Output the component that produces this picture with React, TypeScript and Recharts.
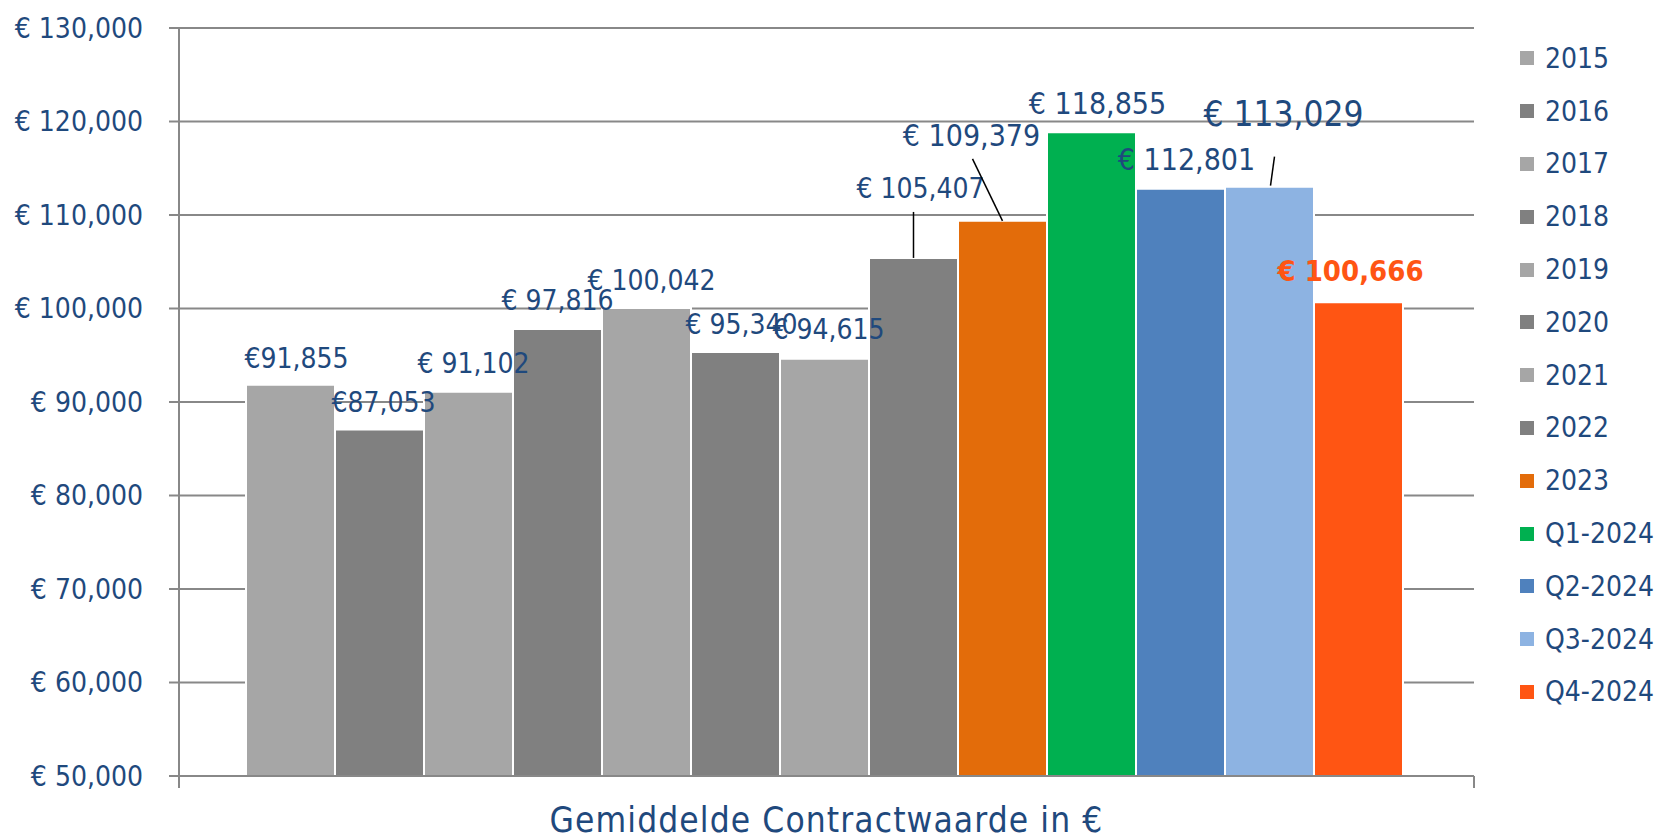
import React from "react";
import {
  BarChart,
  Bar,
  XAxis,
  YAxis,
  CartesianGrid,
  Legend,
  LabelList,
  usePlotArea,
} from "recharts";

const categories = [
  "2015", "2016", "2017", "2018", "2019", "2020", "2021", "2022", "2023",
  "Q1-2024", "Q2-2024", "Q3-2024", "Q4-2024",
];
const values = [
  91855, 87053, 91102, 97816, 100042, 95340, 94615, 105407, 109379,
  118855, 112801, 113029, 100666,
];
const labelTexts = [
  "€91,855", "€87,053", "€ 91,102", "€ 97,816", "€ 100,042", "€ 95,340",
  "€ 94,615", "€ 105,407", "€ 109,379", "€ 118,855", "€ 112,801",
  "€ 113,029", "€ 100,666",
];
const yTicks = [50000, 60000, 70000, 80000, 90000, 100000, 110000, 120000, 130000];
const title = "Gemiddelde Contractwaarde in €";

const colors = [
  "#A6A6A6", "#808080", "#A6A6A6", "#808080", "#A6A6A6", "#808080", "#A6A6A6",
  "#808080", "#E36C0A", "#00B050", "#4F81BD", "#8DB3E2", "#FF5513",
];

// label placement relative to the top centre of each bar (text centre)
const labelStyle = [
  { dx: 6, dy: -26, size: 28 },
  { dx: 4, dy: -27, size: 28 },
  { dx: 5, dy: -28, size: 28 },
  { dx: 0, dy: -28, size: 28 },
  { dx: 5, dy: -28, size: 28 },
  { dx: 6, dy: -28, size: 28 },
  { dx: 4, dy: -29, size: 28 },
  { dx: 7, dy: -69, size: 28, leader: [0, -46, 0, 0] },
  { dx: -31, dy: -85, size: 30, leader: [-30, -62, 0, 0] },
  { dx: 6, dy: -29, size: 30 },
  { dx: 6, dy: -29, size: 30 },
  { dx: 14, dy: -73, size: 35, leader: [5, -30, 1, -1] },
  { dx: -8, dy: -31, size: 29, bold: true, color: "#FF5513" },
];

const FONT = "'DejaVu Sans Condensed', 'DejaVu Sans', sans-serif";
const TEXT = "#1F497D";
const GRID = "#888888";

const data = [
  categories.reduce(
    (row, c, i) => ({ ...row, [c]: values[i] }),
    { name: title } as Record<string, string | number>
  ),
];

const fmt = (v: number) => `€ ${v.toLocaleString("en-US")}`;

function renderLabel(i: number) {
  return (props: any) => {
    const { x, y, width } = props;
    const s = labelStyle[i];
    const cx = Number(x) + Number(width) / 2;
    const top = Number(y);
    return (
      <g>
        {s.leader && (
          <line
            x1={cx + s.leader[0]}
            y1={top + s.leader[1]}
            x2={cx + s.leader[2]}
            y2={top + s.leader[3]}
            stroke="#000"
            strokeWidth={1.5}
          />
        )}
        <text
          x={cx + s.dx}
          y={top + s.dy}
          textAnchor="middle"
          dominantBaseline="central"
          fontFamily={FONT}
          fontSize={s.size}
          fontWeight={s.bold ? "bold" : "normal"}
          fill={s.color || TEXT}
        >
          {labelTexts[i]}
        </text>
      </g>
    );
  };
}

function AxisExtras() {
  const area = usePlotArea();
  if (!area) return null;
  const bottom = area.y + area.height;
  return (
    <g>
      <line x1={area.x} y1={bottom} x2={area.x} y2={bottom + 12} stroke={GRID} strokeWidth={2} />
      <line
        x1={area.x + area.width}
        y1={bottom}
        x2={area.x + area.width}
        y2={bottom + 12}
        stroke={GRID}
        strokeWidth={2}
      />
      <text
        x={area.x + area.width / 2}
        y={832}
        textAnchor="middle"
        fontFamily={FONT}
        fontSize={35}
        letterSpacing={1.1}
        fill={TEXT}
      >
        {title}
      </text>
    </g>
  );
}

function LegendList(props: any) {
  const payload = props.payload || [];
  return (
    <div style={{ fontFamily: FONT, fontSize: 28, color: TEXT }}>
      {payload.map((p: any) => (
        <div
          key={p.value}
          style={{ height: 52.8, display: "flex", alignItems: "center" }}
        >
          <span
            style={{
              width: 14,
              height: 14,
              background: p.color,
              display: "inline-block",
              marginRight: 11,
            }}
          />
          <span>{p.value}</span>
        </div>
      ))}
    </div>
  );
}

export default function App() {
  return (
    <div style={{ position: "absolute", left: 0, top: 0, background: "#fff" }}>
      <BarChart
        width={1663}
        height={840}
        data={data}
        margin={{ top: 28, right: 46, bottom: 0, left: 0 }}
        barCategoryGap={67}
        barGap={0}
      >
        <CartesianGrid vertical={false} stroke={GRID} strokeWidth={2} />
        <XAxis
          dataKey="name"
          height={64}
          tick={false}
          tickLine={false}
          axisLine={{ stroke: GRID, strokeWidth: 2 }}
        />
        <YAxis
          width={179}
          domain={[50000, 130000]}
          ticks={yTicks}
          tickFormatter={fmt}
          tickSize={10}
          tickMargin={26}
          tickLine={{ stroke: GRID, strokeWidth: 2 }}
          axisLine={{ stroke: GRID, strokeWidth: 2 }}
          tick={{ fontFamily: FONT, fontSize: 28, fill: TEXT }}
        />
        <Legend
          layout="vertical"
          align="right"
          verticalAlign="top"
          wrapperStyle={{ left: 1520, top: 32, width: 143 }}
          content={<LegendList />}
        />
        {categories.map((c, i) => (
          <Bar
            key={c}
            dataKey={c}
            name={c}
            fill={colors[i]}
            stroke="#fff"
            strokeWidth={2}
            isAnimationActive={false}
          >
            <LabelList dataKey={c} content={renderLabel(i)} />
          </Bar>
        ))}
        <AxisExtras />
      </BarChart>
    </div>
  );
}
